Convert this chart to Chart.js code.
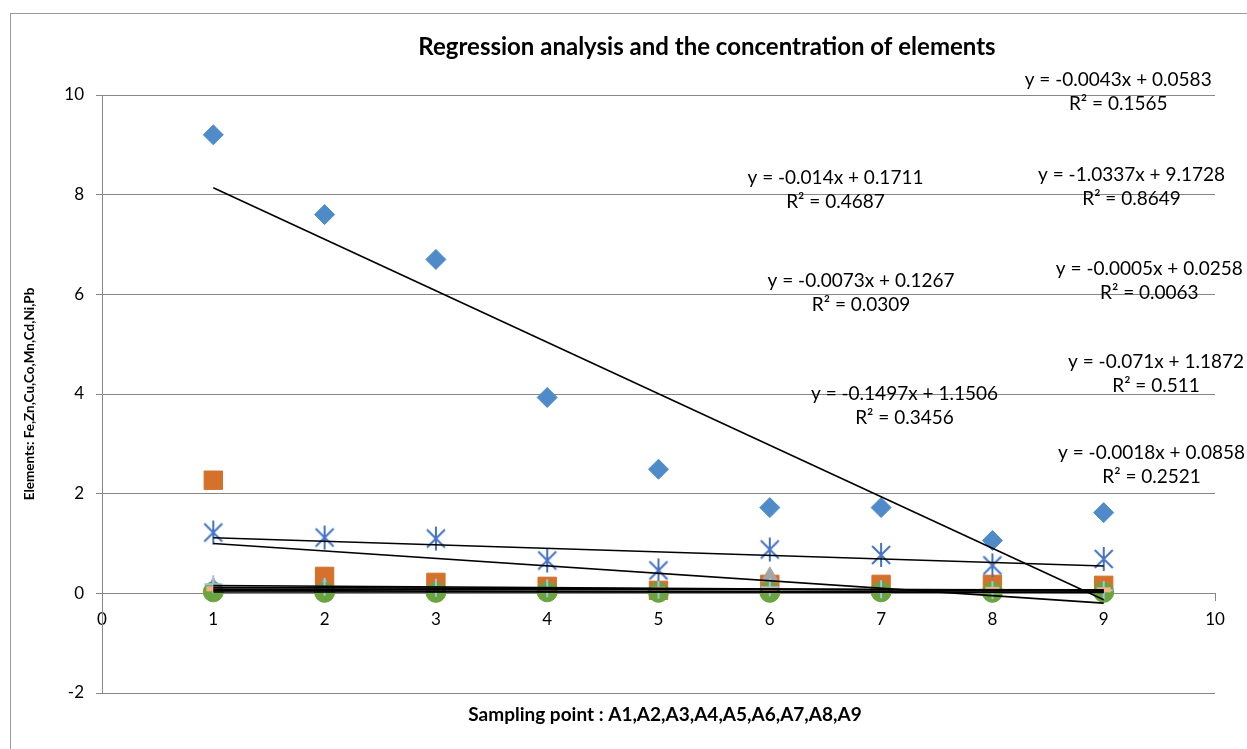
<!DOCTYPE html>
<html>
<head>
<meta charset="utf-8">
<script src="https://cdn.jsdelivr.net/npm/chart.js@4"></script>
<style>
html,body{margin:0;padding:0;background:#fff;}
#wrap{position:relative;width:1247px;height:749px;}
canvas{display:block;}
</style>
</head>
<body>
<div id="wrap"><canvas id="c" width="1247" height="749"></canvas></div>
<script>
// ---- data ----
const samplingPoints = [1, 2, 3, 4, 5, 6, 7, 8, 9];
const Fe = [9.2, 7.6, 6.7, 3.93, 2.49, 1.72, 1.72, 1.06, 1.62];
const Zn = [2.27, 0.34, 0.22, 0.14, 0.06, 0.18, 0.18, 0.18, 0.16];
const Cu = [0.12, 0.10, 0.05, 0.06, 0.03, 0.33, 0.05, 0.02, 0.05];
const Co = [0.08, 0.04, 0.05, 0.03, 0.04, 0.02, 0.04, 0.02, 0.01];
const Mn = [1.22, 1.12, 1.10, 0.66, 0.46, 0.88, 0.77, 0.56, 0.69];
const Cd = [0.03, 0.02, 0.02, 0.03, 0.02, 0.02, 0.03, 0.02, 0.02];
const Ni = [0.18, 0.13, 0.11, 0.10, 0.07, 0.12, 0.08, 0.06, 0.06];
const Pb = [0.09, 0.08, 0.09, 0.07, 0.08, 0.07, 0.06, 0.08, 0.07];
const seriesNames = ['Fe', 'Zn', 'Cu', 'Co', 'Mn', 'Cd', 'Ni', 'Pb'];
// trendline coefficients (as printed on the chart), same order as seriesNames
const trendSlope     = [-1.0337, -0.1497, -0.0073, -0.0043, -0.071, -0.0005, -0.014, -0.0018];
const trendIntercept = [9.1728, 1.1506, 0.1267, 0.0583, 1.1872, 0.0258, 0.1711, 0.0858];
const trendR2        = ['0.8649', '0.3456', '0.0309', '0.1565', '0.511', '0.0063', '0.4687', '0.2521'];
const trendEqText = ['y = -1.0337x + 9.1728', 'y = -0.1497x + 1.1506', 'y = -0.0073x + 0.1267',
  'y = -0.0043x + 0.0583', 'y = -0.071x + 1.1872', 'y = -0.0005x + 0.0258', 'y = -0.014x + 0.1711',
  'y = -0.0018x + 0.0858'];
// label anchors in data coordinates (centre of the equation line)
const labelX = [9.25, 7.21, 6.82, 9.13, 9.47, 9.41, 6.59, 9.43];
const labelY = [8.39, 4.01, 6.28, 10.30, 4.64, 6.52, 8.33, 2.81];
const xTicksMin = 0, xTicksMax = 10, yTicksMin = -2, yTicksMax = 10, yStep = 2;
const chartTitle = 'Regression analysis and the concentration of elements';
const xTitle = 'Sampling point : A1,A2,A3,A4,A5,A6,A7,A8,A9';
const yTitle = 'Elements: Fe,Zn,Cu,Co,Mn,Cd,Ni,Pb';

// ---- styles ----
const FONT = 'Lato, "Open Sans", sans-serif';
function asterisk(color){
  const c = document.createElement('canvas'); c.width = 26; c.height = 26;
  const g = c.getContext('2d'); g.strokeStyle = color; g.lineWidth = 2;
  g.beginPath();
  g.moveTo(4,4); g.lineTo(22,22); g.moveTo(22,4); g.lineTo(4,22);
  g.moveTo(13,1); g.lineTo(13,25);
  g.stroke(); return c;
}
const styles = [
  {color:'#4F8BC8', style:'rectRot', r:10, bw:1},
  {color:'#D4722C', style:'rect', r:13, bw:1},
  {color:'#A5A5A5', style:'triangle', r:10, bw:1},
  {color:'#FFC000', style:'crossRot', r:8, bw:2},
  {color:'#4472C4', style:asterisk('#4472C4'), r:12, bw:2},
  {color:'#6BA33F', style:'circle', r:10, bw:1},
  {color:'#9DC3E6', style:'cross', r:9, bw:2},
  {color:'#F4B183', style:'line', r:7, bw:5},
];
const seriesData = [Fe, Zn, Cu, Co, Mn, Cd, Ni, Pb];

const datasets = [];
seriesData.forEach((vals, i) => {
  const s = styles[i];
  datasets.push({
    type: 'scatter', label: seriesNames[i],
    data: samplingPoints.map((x, k) => ({x, y: vals[k]})),
    pointStyle: s.style, pointRadius: s.r, pointHoverRadius: s.r,
    backgroundColor: s.color, borderColor: s.color, pointBorderWidth: s.bw,
    showLine: false, order: 15 - i
  });
});
seriesData.forEach((vals, i) => {
  const x0 = samplingPoints[0], x1 = samplingPoints[samplingPoints.length - 1];
  datasets.push({
    type: 'line', label: 'Linear (' + seriesNames[i] + ')',
    data: [{x:x0, y: trendSlope[i]*x0 + trendIntercept[i]}, {x:x1, y: trendSlope[i]*x1 + trendIntercept[i]}],
    borderColor: '#000', borderWidth: 1.6, pointRadius: 0, fill: false, order: 7 - i
  });
});

const textPlugin = {
  id: 'texts',
  beforeDraw(chart){
    const ctx = chart.ctx;
    ctx.save();
    ctx.strokeStyle = '#9a9a9a'; ctx.lineWidth = 1;
    ctx.strokeRect(10.5, 13.5, 1300, 800);
    ctx.restore();
  },
  afterDraw(chart){
    const ctx = chart.ctx, xs = chart.scales.x, ys = chart.scales.y;
    ctx.save();
    ctx.fillStyle = '#000';
    ctx.textAlign = 'center'; ctx.textBaseline = 'middle';
    ctx.font = 'bold 24px ' + FONT;
    ctx.fillText(chartTitle, 707, 47);
    ctx.font = 'bold 19px ' + FONT;
    ctx.fillText(xTitle, 665, 715);
    ctx.font = '19px ' + FONT;
    for (let i = 0; i < trendEqText.length; i++){
      const px = xs.getPixelForValue(labelX[i]), py = ys.getPixelForValue(labelY[i]);
      ctx.fillText(trendEqText[i], px, py);
      ctx.fillText('R\u00B2 = ' + trendR2[i], px, py + 24);
    }
    ctx.restore();
  }
};

new Chart(document.getElementById('c'), {
  type: 'scatter',
  data: { datasets },
  options: {
    responsive: false, animation: false,
    layout: { padding: { left: 0, right: 32, top: 95, bottom: 56 } },
    plugins: { legend: { display: false }, tooltip: { enabled: false }, title: { display: false } },
    scales: {
      x: {
        type: 'linear', position: { y: 0 }, min: xTicksMin, max: xTicksMax,
        ticks: { stepSize: 1, color: '#000', font: { size: 17, family: FONT }, padding: 9 },
        grid: { drawOnChartArea: false, drawTicks: true, tickLength: 7, color: '#878787' },
        border: { color: '#878787', width: 1 }
      },
      y: {
        type: 'linear', position: 'left', min: yTicksMin, max: yTicksMax,
        ticks: { stepSize: yStep, color: '#000', font: { size: 17, family: FONT }, padding: 12 },
        grid: { color: '#878787', tickLength: 6 },
        border: { color: '#878787', width: 1 },
        title: { display: true, text: yTitle, color: '#000', font: { size: 13.5, weight: 'bold', family: FONT }, padding: { top: 22, bottom: 0 } },
        afterFit(scale){ scale.width = 102; }
      }
    }
  },
  plugins: [textPlugin]
});
</script>
</body>
</html>
